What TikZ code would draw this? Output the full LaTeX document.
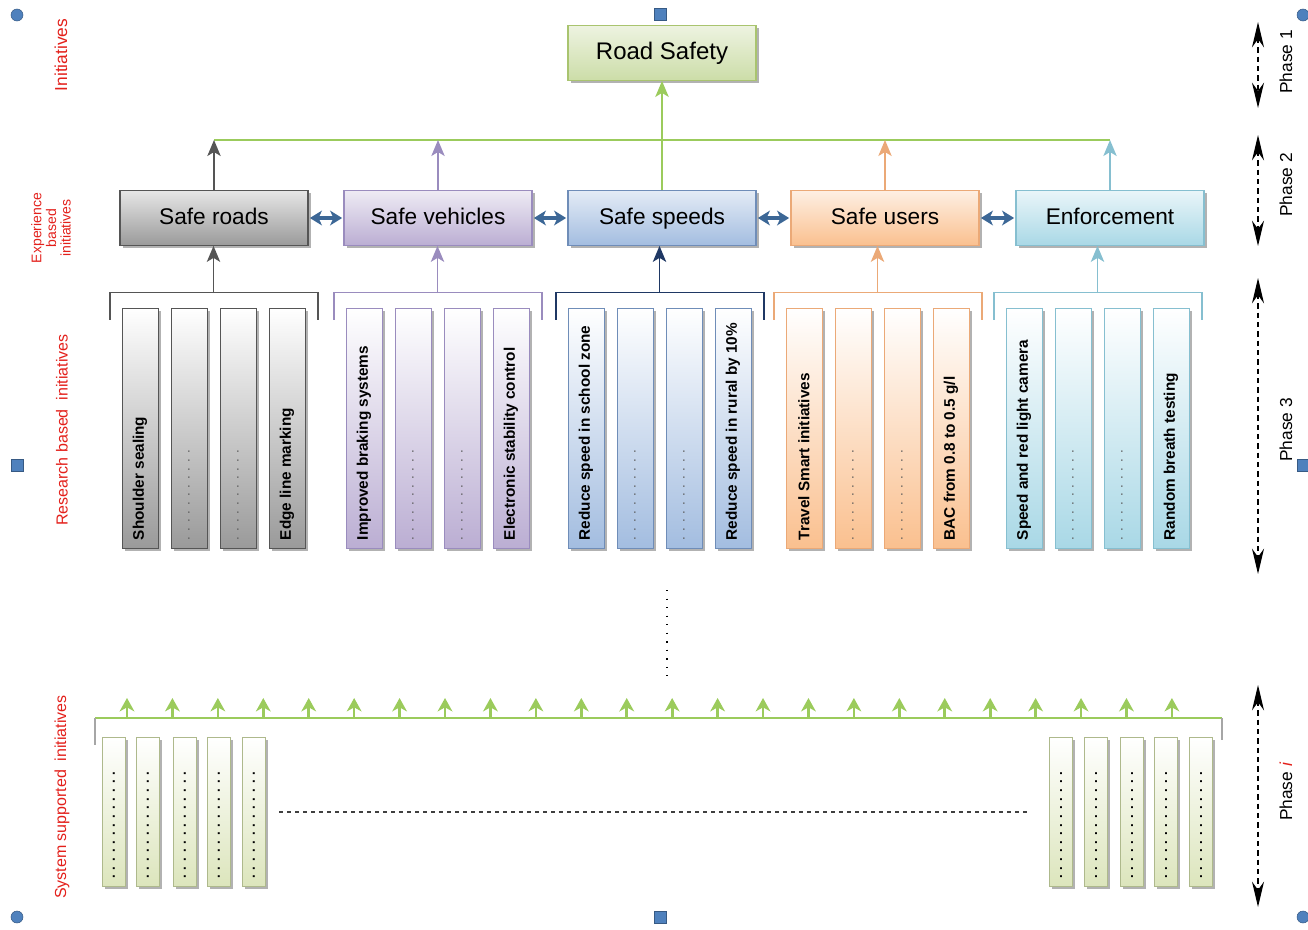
\documentclass[tikz,border=0pt]{standalone}
\usepackage{fontspec}
\setmainfont{Liberation Sans}
\usetikzlibrary{arrows.meta,shadows,calc}

\definecolor{roadsDark}{HTML}{9A9A9A}
\definecolor{roadsEdge}{HTML}{555555}
\definecolor{vehDark}{HTML}{BBAED3}
\definecolor{vehEdge}{HTML}{9A8CBE}
\definecolor{spdDark}{HTML}{A3BDE0}
\definecolor{spdEdge}{HTML}{6F8DB8}
\definecolor{spdLine}{HTML}{1F3864}
\definecolor{usrDark}{HTML}{FAC08F}
\definecolor{usrEdge}{HTML}{EBA977}
\definecolor{enfDark}{HTML}{A9D8E6}
\definecolor{enfEdge}{HTML}{86BFD0}
\definecolor{rsFill}{HTML}{CCDDA8}
\definecolor{rsEdge}{HTML}{A9C46F}
\definecolor{busGreen}{HTML}{9BCB5C}
\definecolor{sysFill}{HTML}{DCE5BC}
\definecolor{sysEdge}{HTML}{AEB98C}
\definecolor{linkBlue}{HTML}{3C6796}
\definecolor{redLab}{HTML}{E3201B}
\definecolor{handleBlue}{HTML}{4F81BD}

\begin{document}
\begin{tikzpicture}[x=0.75pt, y=-0.75pt,
  shadowed/.style={drop shadow={shadow xshift=2pt, shadow yshift=-2pt,
                   fill=black, opacity=0.3}},
  topbox/.style={shadowed, draw, line width=0.8pt, minimum width=141pt,
                 minimum height=41pt, inner sep=0pt, text height=12.5pt,
                 text depth=3.5pt, font=\fontsize{17}{20}\selectfont},
  colbox/.style={shadowed, draw, line width=0.7pt, top color=white,
                 minimum width=27pt, minimum height=180pt, inner sep=0pt},
  sysbox/.style={shadowed, draw=sysEdge, line width=0.7pt, top color=white,
                 bottom color=sysFill, minimum width=17pt,
                 minimum height=112pt, inner sep=0pt},
  coltext/.style={rotate=90, anchor=west, inner sep=0pt,
                  font=\bfseries\fontsize{11.5}{13}\selectfont},
  coldots/.style={rotate=90, anchor=west, inner sep=0pt, text=black!65,
                  font=\fontsize{10}{12}\selectfont},
  sysdots/.style={rotate=90, anchor=west, inner sep=0pt,
                  font=\bfseries\fontsize{10}{12}\selectfont},
  sidelabel/.style={rotate=90, text=redLab, align=center, inner sep=0pt},
  phaselabel/.style={rotate=90, inner sep=0pt,
                     font=\fontsize{13}{14}\selectfont},
  uparrow/.style={-{Stealth[length=12pt,width=10pt,inset=3pt]}, line width=1.2pt},
  link/.style={{Stealth[length=9pt,width=11pt,inset=2.5pt]}-{Stealth[length=9pt,width=11pt,inset=2.5pt]},
               line width=2.4pt, linkBlue, shorten <=1pt, shorten >=1pt},
  phase/.style={{Stealth[length=19pt,width=9pt]}-{Stealth[length=19pt,width=9pt]},
                line width=1.3pt, dash pattern=on 4pt off 3pt},
  handle/.style={fill=handleBlue, draw=handleBlue!70!black, line width=0.4pt}]

  % keep the page the size of the reference
  \useasboundingbox (0,0) rectangle (1308,929);

  % top of the hierarchy
  \node[topbox, top color=rsFill!35, bottom color=rsFill, draw=rsEdge,
        font=\fontsize{18}{20}\selectfont] (safety) at (662,53) {Road Safety};

  % experience based initiatives
  \node[topbox, top color=roadsDark!25, bottom color=roadsDark, draw=roadsEdge]
    (roads) at (214,218) {Safe roads};
  \node[topbox, top color=vehDark!25, bottom color=vehDark, draw=vehEdge]
    (veh) at (438,218) {Safe vehicles};
  \node[topbox, top color=spdDark!30, bottom color=spdDark, draw=spdEdge]
    (spd) at (662,218) {Safe speeds};
  \node[topbox, top color=usrDark!25, bottom color=usrDark, draw=usrEdge]
    (usr) at (885,218) {Safe users};
  \node[topbox, top color=enfDark!25, bottom color=enfDark, draw=enfEdge]
    (enf) at (1110,218) {Enforcement};

  % the green line that collects the five pillars
  \coordinate (bus) at (0,140);
  \draw[busGreen, line width=1.2pt] (roads.north |- bus) -- (enf.north |- bus);
  \draw[uparrow, roadsEdge] (roads.north) -- (roads.north |- bus);
  \draw[uparrow, vehEdge] (veh.north) -- (veh.north |- bus);
  \draw[uparrow, usrEdge] (usr.north) -- (usr.north |- bus);
  \draw[uparrow, enfEdge] (enf.north) -- (enf.north |- bus);
  \draw[uparrow, busGreen, line width=1.6pt] (spd.north) -- (safety.south);

  % links between neighbouring pillars
  \draw[link] (roads.east) -- (veh.west);
  \draw[link] (veh.east) -- (spd.west);
  \draw[link] (spd.east) -- (usr.west);
  \draw[link] (usr.east) -- (enf.west);

  % research based initiatives, four columns under each pillar
  \foreach \g/\sx/\dk/\ed/\ln/\ta/\tb in {
    roads/140/roadsDark/roadsEdge/roadsEdge/{Shoulder sealing}/{Edge line marking},
    veh/364/vehDark/vehEdge/vehEdge/{Improved braking systems}/{Electronic stability control},
    spd/586/spdDark/spdEdge/spdLine/{Reduce speed in school zone}/{Reduce speed in rural by 10\%},
    usr/804/usrDark/usrEdge/usrEdge/{Travel Smart initiatives}/{BAC from 0.8 to 0.5 g/l},
    enf/1024/enfDark/enfEdge/enfEdge/{Speed and red light camera}/{Random breath testing}}
  {
    \foreach \i in {1,...,4}
      \node[colbox, bottom color=\dk, draw=\ed] (\g-\i) at ({\sx+49*(\i-1)},428) {};

    \node[coltext] (\g-1-t) at ($(\g-1.south)+(0,-8)$) {\ta};
    \node[coldots] (\g-2-t) at ($(\g-2.south)+(0,-8)$) {. . . . . . . . . . .};
    \node[coldots] (\g-3-t) at ($(\g-3.south)+(0,-8)$) {. . . . . . . . . . .};
    \node[coltext] (\g-4-t) at ($(\g-4.south)+(0,-8)$) {\tb};

    % bracket over the columns and arrow up to the pillar
    \coordinate (\g-br) at ({\sx+73.5},293);
    \draw[\ln, line width=1pt] ($(\g-1.north)+(-30,12)$) |- ($(\g-4.north)+(31,-15)$)
      -- ++(0,27);
    \draw[uparrow, \ln] (\g-br) -- (\g-br |- \g.south);
  }

  % the gap between phase 3 and phase i
  \coordinate (gap-a) at (667,590);
  \coordinate (gap-b) at (667,676);
  \draw[line width=1.1pt, dash pattern=on 1pt off 5.4pt] (gap-a) -- (gap-b);

  % system supported initiatives
  \coordinate (sysbus-w) at (95,718);
  \coordinate (sysbus-e) at (1222,718);
  \draw[busGreen, line width=1.2pt] (sysbus-w) -- (sysbus-e);
  \draw[black!35, line width=0.8pt] (sysbus-w) -- ++(0,27);
  \draw[black!35, line width=0.8pt] (sysbus-e) -- ++(0,22);
  \foreach \k in {0,...,23}
  {
    \coordinate (sb-\k) at ({127+45.43*\k},718);
    \draw[-{Stealth[length=10pt,width=11pt,inset=3pt]}, busGreen, line width=2pt]
      (sb-\k) -- ++(0,-20);
  }

  \foreach \i/\x in {1/114,2/148,3/185,4/219,5/254,
                     6/1061,7/1096,8/1132,9/1166,10/1201}
  {
    \node[sysbox] (sys-\i) at (\x,812) {};
    \node[sysdots] (sys-\i-t) at ($(sys-\i.south)+(0,-8)$)
      {. . . . . . . . . . . . .};
  }
  \draw[black!75, line width=0.8pt, dash pattern=on 3pt off 3pt,
        shorten <=10pt, shorten >=15pt] (sys-5) -- (sys-6);

  % labels on the left
  \node[sidelabel, font=\fontsize{13}{14}\selectfont] (lab-init) at (61,55)
    {Initiatives};
  \node[sidelabel, font=\fontsize{10.5}{11}\selectfont] (lab-exp) at (51,228)
    {Experience\\based\\initiatives};
  \node[sidelabel, font=\fontsize{12}{14}\selectfont] (lab-res) at (62,430)
    {Research based\ \ initiatives};
  \node[sidelabel, font=\fontsize{12}{14}\selectfont] (lab-sys) at (62,797)
    {System supported\ \ initiatives};

  % phases on the right
  \foreach \p/\ya/\yb/\ym/\txt in {1/22/108/62/{Phase 1},
                                  2/135/246/185/{Phase 2},
                                  3/278/574/430/{Phase 3},
                                  4/685/907/792/{Phase {\color{redLab}\itshape i}}}
  {
    \coordinate (ph\p-a) at (1258,\ya);
    \coordinate (ph\p-b) at (1258,\yb);
    \draw[phase] (ph\p-a) -- (ph\p-b);
    \node[phaselabel] (ph\p) at (1286,\ym) {\txt};
  }

  % selection handles
  \foreach \x/\y in {17/15,1303/15,17/917,1303/917}
    \draw[handle] (\x,\y) circle (6);
  \foreach \x/\y in {660/14,17/465,1303/465,660/917}
    \draw[handle] ($(\x,\y)+(-6,-6)$) rectangle ($(\x,\y)+(6,6)$);
\end{tikzpicture}
\end{document}
